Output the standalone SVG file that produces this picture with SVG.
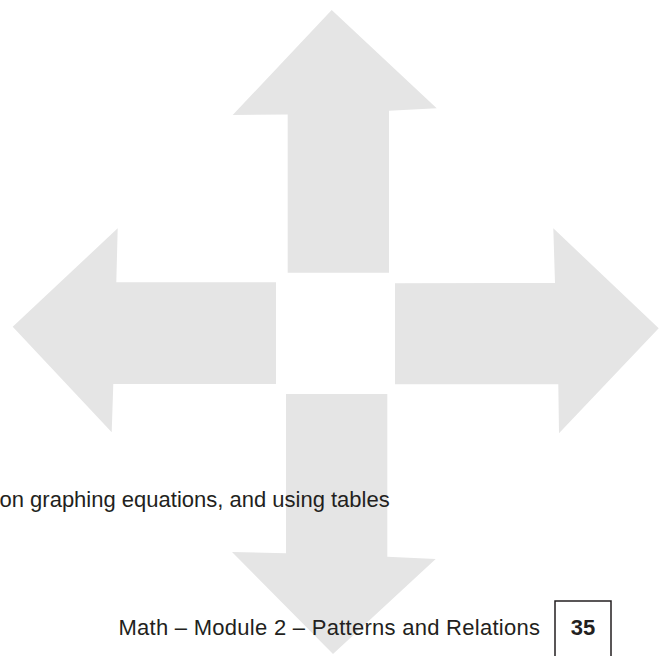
<svg xmlns="http://www.w3.org/2000/svg" width="661" height="656" viewBox="0 0 661 656">
<style>
.arrow{fill:#e5e5e5;stroke:none}
.txt{font-family:"Liberation Sans",Arial,sans-serif;font-size:22px;fill:#231f20}
.foot{letter-spacing:0.27px}
.num{font-weight:bold}
.box{fill:none;stroke:#231f20;stroke-width:1.5}
</style>
<rect width="661" height="656" fill="#ffffff"/>
<g id="connectors">
<g id="arrow-up"><polygon class="arrow" points="331.7,10 436.7,108.3 389,110.7 389,272.7 287.7,272.7 287.7,114.5 232.7,115"/></g>
<g id="arrow-left"><polygon class="arrow" points="12.7,326.7 117.7,228.3 116.3,282.3 276,282.3 276,384 113.3,384 111.7,432.3"/></g>
<g id="arrow-right"><polygon class="arrow" points="395,283.3 555,283 553.3,228.3 658.7,328.3 559,433.3 558.3,384.3 395,384.3"/></g>
<g id="arrow-down"><polygon class="arrow" points="286,394 387.3,394 387.3,556.7 435.7,559 333,654 232,552 286,553.3"/></g>
</g>
<g id="body-text"><text class="txt" x="-0.5" y="506.5">on graphing equations, and using tables</text></g>
<g id="footer">
<text class="txt foot" x="118.5" y="635">Math – Module 2 – Patterns and Relations</text>
<polyline class="box" points="555,660 555,601 611,601 611,660"/>
<text class="txt num" x="583" y="635" text-anchor="middle">35</text>
</g>
</svg>
